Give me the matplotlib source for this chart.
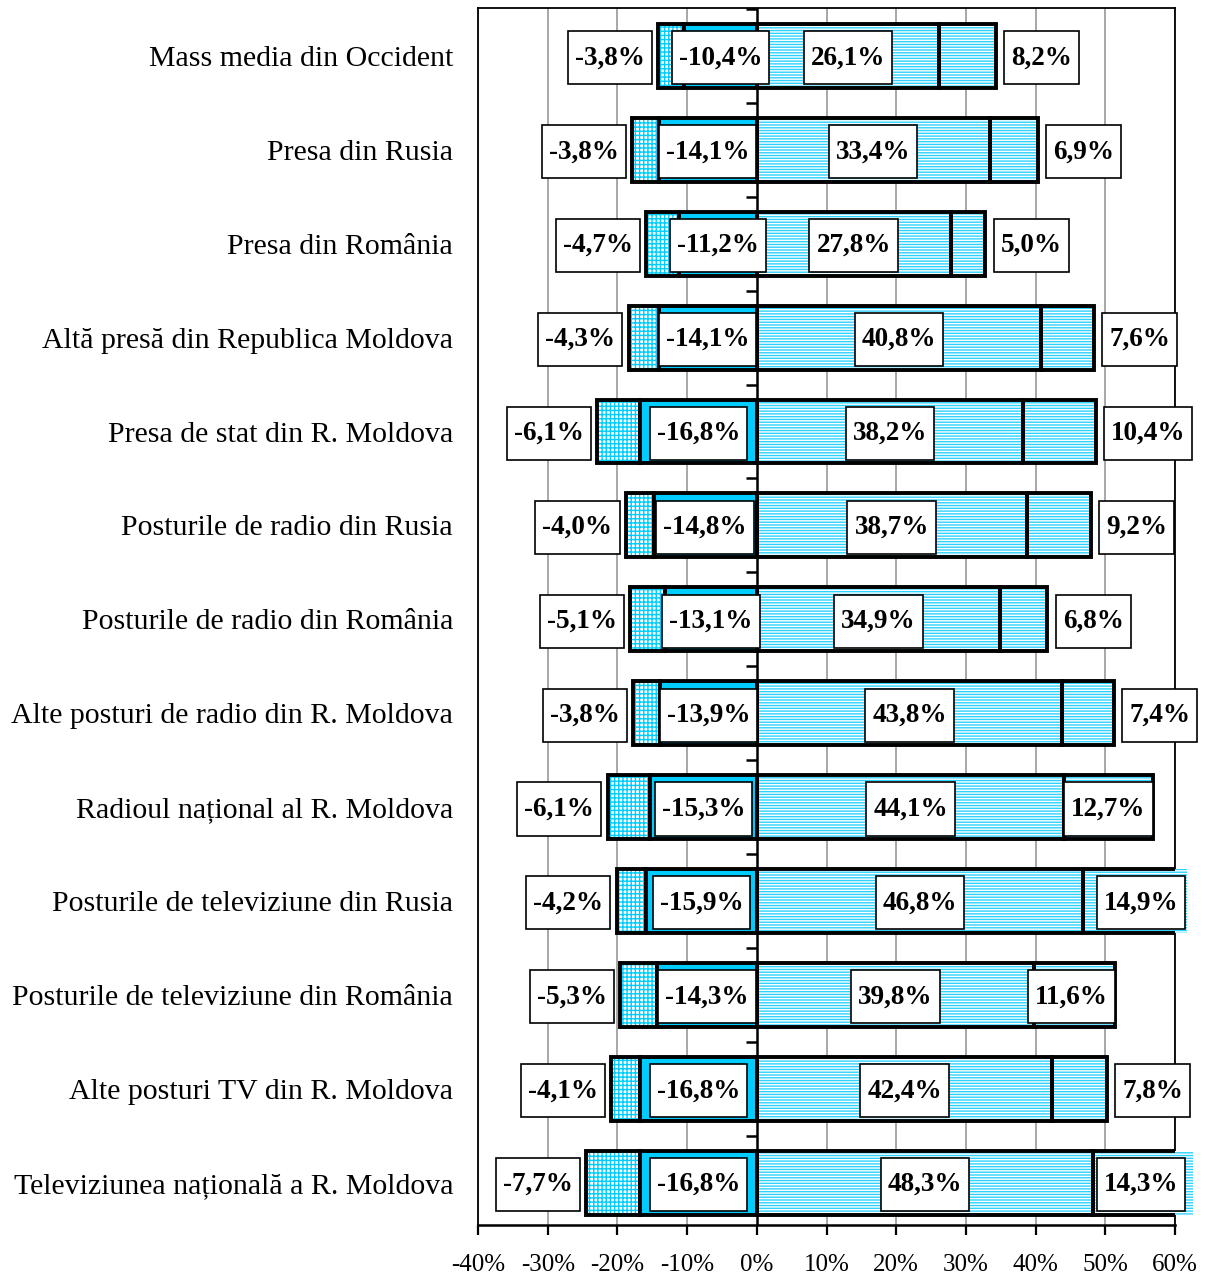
import matplotlib
matplotlib.use("Agg")
import matplotlib.pyplot as plt
from matplotlib.path import Path
import numpy as np

categories = [
    "Mass media din Occident",
    "Presa din Rusia",
    "Presa din România",
    "Altă presă din Republica Moldova",
    "Presa de stat din R. Moldova",
    "Posturile de radio din Rusia",
    "Posturile de radio din România",
    "Alte posturi de radio din R. Moldova",
    "Radioul național al R. Moldova",
    "Posturile de televiziune din Rusia",
    "Posturile de televiziune din România",
    "Alte posturi TV din R. Moldova",
    "Televiziunea națională a R. Moldova",
]
outer_neg = [-3.8, -3.8, -4.7, -4.3, -6.1, -4.0, -5.1, -3.8, -6.1, -4.2, -5.3, -4.1, -7.7]
inner_neg = [-10.4, -14.1, -11.2, -14.1, -16.8, -14.8, -13.1, -13.9, -15.3, -15.9, -14.3, -16.8, -16.8]
inner_pos = [26.1, 33.4, 27.8, 40.8, 38.2, 38.7, 34.9, 43.8, 44.1, 46.8, 39.8, 42.4, 48.3]
outer_pos = [8.2, 6.9, 5.0, 7.6, 10.4, 9.2, 6.8, 7.4, 12.7, 14.9, 11.6, 7.8, 14.3]
xticks = [-40, -30, -20, -10, 0, 10, 20, 30, 40, 50, 60]

plt.rcParams['font.family'] = ['Liberation Serif', 'DejaVu Serif']
plt.rcParams['hatch.linewidth'] = 1.0

fig = plt.figure(figsize=(12.07, 12.77), dpi=100)
ax = fig.add_axes([478/1207, 1 - 1225/1277, (1175-478)/1207, (1225-8)/1277])

y = np.arange(len(categories))
h = 0.68
on = np.array(outer_neg); inn = np.array(inner_neg)
ip = np.array(inner_pos); op = np.array(outer_pos)

CYAN = '#00ccff'

def seg(left, width, face, hatch, hcol):
    ax.barh(y, width, left=left, height=h, color=face, edgecolor=hcol,
            hatch=hatch, linewidth=0, zorder=3, clip_on=False)
    ax.barh(y, width, left=left, height=h, facecolor='none', edgecolor='black',
            linewidth=2.8, zorder=3.5)

seg(inn, on, 'white', '++++', CYAN)
ax.barh(y, inn, height=h, color=CYAN, edgecolor='black', linewidth=2.8, zorder=3.5)
seg(0, ip, '#2ed2ff', '------', 'white')
seg(ip, op, '#2ed2ff', '------', 'white')

ax.set_xlim(-40, 60)
ax.set_ylim(len(categories) - 0.55, -0.51)

for xv in xticks:
    if xv != 0:
        ax.axvline(xv, color='#a0a0a0', lw=1.3, zorder=1)
ax.axvline(0, color='black', lw=1.8, zorder=2)
for k in range(-1, len(categories)):
    ax.plot([-1.5, 0], [k + 0.5, k + 0.5], color='black', lw=1.8, zorder=2,
            solid_capstyle='butt')

ax.set_xticks(xticks)
ax.set_xticklabels([f"{v}%" for v in xticks], fontsize=18)
ax.tick_params(axis='x', direction='out', length=7, width=1.6, pad=14)
ax.set_yticks(y)
ax.set_yticklabels(categories, fontsize=21.5)
ax.tick_params(axis='y', length=0, pad=18)
for s in ax.spines.values():
    s.set_linewidth(1.3)
ax.spines['bottom'].set_linewidth(1.8)

fs = 19.5
PX, PY = 0.26, 0.52

def boxfn(x0, y0, width, height, mutation_size):
    px = PX * mutation_size
    py = PY * mutation_size
    x0 -= px; y0 -= py; x1 = x0 + width + 2 * px; y1 = y0 + height + 2 * py
    return Path([(x0, y0), (x1, y0), (x1, y1), (x0, y1), (x0, y0)],
                [Path.MOVETO, Path.LINETO, Path.LINETO, Path.LINETO, Path.CLOSEPOLY])

bbox = dict(boxstyle=boxfn, facecolor='white', edgecolor='black', linewidth=1.2)
pad_pt = PX * fs

def fmt(v):
    return f"{v:.1f}%".replace('.', ',')

kw = dict(va='center', fontsize=fs, fontweight='bold', bbox=bbox, zorder=5)
for i in range(len(categories)):
    left_end = on[i] + inn[i]
    ax.annotate(fmt(on[i]), (left_end, y[i] + 0.02), xytext=(-(4.5 + pad_pt), 0),
                textcoords='offset points', ha='right', annotation_clip=False, **kw)
    ax.text(inn[i] / 2, y[i] + 0.02, fmt(inn[i]), ha='center', **kw)
    ax.text(ip[i] / 2, y[i] + 0.02, fmt(ip[i]), ha='center', **kw)
    right_end = ip[i] + op[i]
    lbl = fmt(op[i])
    w = 12.5 if len(lbl) >= 5 else 10.5
    if right_end + 1.2 + w <= 63.5:
        ax.annotate(lbl, (right_end, y[i] + 0.02), xytext=(6 + pad_pt, 0), textcoords='offset points',
                    ha='left', annotation_clip=False, **kw)
    else:
        ax.annotate(lbl, (min(right_end, 61.5), y[i] + 0.02), xytext=(-pad_pt, 0),
                    textcoords='offset points', ha='right', annotation_clip=False, **kw)

fig.savefig('out.png', dpi=100)
